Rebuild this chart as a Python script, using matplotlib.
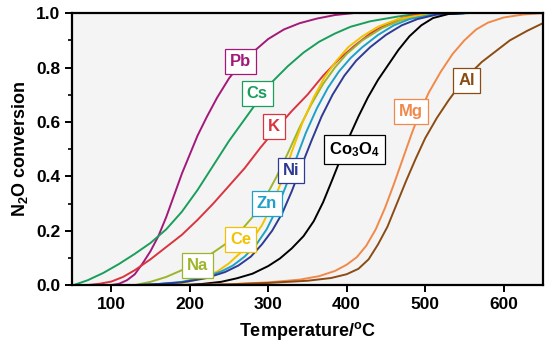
import matplotlib
matplotlib.use("Agg")
import matplotlib.pyplot as plt

plt.rcParams['font.family'] = ['Liberation Sans', 'DejaVu Sans']
plt.rcParams['mathtext.fontset'] = 'custom'
plt.rcParams['mathtext.rm'] = 'Liberation Sans:bold'
plt.rcParams['mathtext.it'] = 'Liberation Sans:bold'
plt.rcParams['mathtext.bf'] = 'Liberation Sans:bold'

# temperature (C) and N2O conversion
pb_t = [100, 110, 120, 130, 140, 150, 160, 170, 180, 190, 200, 210, 222, 235, 250, 265, 280, 300, 320, 340, 362, 385, 408]
pb_c = [0.0, 0.005, 0.018, 0.04, 0.08, 0.125, 0.18, 0.25, 0.33, 0.41, 0.48, 0.55, 0.62, 0.69, 0.76, 0.815, 0.855, 0.905, 0.94, 0.963, 0.98, 0.993, 1.0]

cs_t = [52, 70, 90, 110, 130, 150, 170, 190, 210, 230, 250, 270, 290, 306, 325, 345, 365, 385, 405, 430, 464, 495]
cs_c = [0.0, 0.018, 0.045, 0.078, 0.115, 0.155, 0.205, 0.27, 0.35, 0.44, 0.53, 0.61, 0.69, 0.75, 0.805, 0.855, 0.895, 0.925, 0.95, 0.97, 0.987, 1.0]

k_t = [70, 85, 100, 115, 130, 150, 170, 190, 210, 230, 250, 270, 290, 310, 330, 350, 370, 390, 410, 430, 450, 470, 490, 515]
k_c = [0.0, 0.005, 0.013, 0.03, 0.055, 0.095, 0.14, 0.185, 0.24, 0.3, 0.365, 0.43, 0.505, 0.575, 0.64, 0.7, 0.77, 0.83, 0.88, 0.925, 0.958, 0.982, 0.995, 1.0]

na_t = [130, 150, 170, 190, 210, 230, 250, 265, 280, 295, 310, 325, 340, 355, 370, 385, 400, 420, 445, 470, 500, 530]
na_c = [0.0, 0.012, 0.03, 0.055, 0.085, 0.12, 0.16, 0.2, 0.25, 0.315, 0.395, 0.485, 0.58, 0.665, 0.74, 0.8, 0.85, 0.9, 0.945, 0.975, 0.995, 1.0]

ce_t = [175, 195, 215, 235, 250, 265, 280, 292, 305, 318, 330, 344, 358, 372, 387, 402, 420, 440, 465, 500, 540]
ce_c = [0.0, 0.01, 0.025, 0.05, 0.08, 0.12, 0.17, 0.22, 0.295, 0.39, 0.49, 0.6, 0.69, 0.765, 0.825, 0.875, 0.915, 0.95, 0.978, 0.996, 1.0]

zn_t = [130, 160, 190, 220, 240, 255, 270, 285, 298, 310, 322, 335, 348, 362, 376, 390, 405, 420, 440, 460, 480, 510, 555]
zn_c = [0.0, 0.004, 0.012, 0.03, 0.05, 0.072, 0.105, 0.15, 0.205, 0.275, 0.36, 0.46, 0.56, 0.65, 0.725, 0.785, 0.835, 0.875, 0.92, 0.955, 0.978, 0.995, 1.0]

ni_t = [130, 160, 190, 220, 245, 262, 278, 292, 305, 318, 330, 342, 355, 368, 382, 397, 412, 430, 450, 470, 490, 515, 550]
ni_c = [0.0, 0.004, 0.01, 0.025, 0.048, 0.072, 0.105, 0.15, 0.2, 0.265, 0.345, 0.435, 0.53, 0.62, 0.7, 0.77, 0.825, 0.875, 0.92, 0.955, 0.978, 0.995, 1.0]

co_t = [190, 215, 240, 260, 280, 300, 315, 330, 345, 358, 370, 382, 393, 404, 415, 427, 440, 453, 466, 480, 495, 510, 530, 550]
co_c = [0.0, 0.004, 0.012, 0.025, 0.042, 0.07, 0.098, 0.135, 0.18, 0.235, 0.305, 0.39, 0.47, 0.55, 0.62, 0.69, 0.755, 0.81, 0.865, 0.915, 0.955, 0.982, 0.997, 1.0]

mg_t = [200, 250, 300, 340, 365, 385, 400, 413, 425, 437, 449, 460, 471, 482, 493, 505, 520, 535, 550, 565, 580, 600, 625, 650]
mg_c = [0.0, 0.003, 0.01, 0.02, 0.033, 0.052, 0.075, 0.103, 0.145, 0.205, 0.285, 0.37, 0.46, 0.55, 0.635, 0.71, 0.785, 0.85, 0.9, 0.94, 0.965, 0.984, 0.995, 1.0]

al_t = [200, 250, 300, 350, 380, 400, 415, 428, 440, 452, 464, 476, 488, 500, 515, 530, 544, 558, 572, 590, 608, 630, 650]
al_c = [0.0, 0.003, 0.008, 0.016, 0.026, 0.04, 0.06, 0.095, 0.15, 0.215, 0.3, 0.385, 0.465, 0.54, 0.615, 0.68, 0.735, 0.78, 0.82, 0.86, 0.9, 0.935, 0.963]

names = ['Pb', 'Cs', 'K', 'Na', 'Ce', 'Zn', 'Ni', 'Co$_3$O$_4$', 'Mg', 'Al']
temps = [pb_t, cs_t, k_t, na_t, ce_t, zn_t, ni_t, co_t, mg_t, al_t]
convs = [pb_c, cs_c, k_c, na_c, ce_c, zn_c, ni_c, co_c, mg_c, al_c]
colors = ['#A3197A', '#1A9E5C', '#D9343F', '#9CB52B', '#F2C200',
          '#1DA1C8', '#2E3A93', '#000000', '#F0894A', '#8B4C14']
# where each label box sits (data coords)
label_pos = [(265, 0.822), (286, 0.704), (307, 0.585), (210, 0.072), (265, 0.167),
             (298, 0.30), (329, 0.423), (410, 0.498), (482, 0.64), (553, 0.754)]

fig = plt.figure(figsize=(5.5, 3.46), dpi=100)
ax = fig.add_axes([0.131, 0.176, 0.856, 0.786])
ax.set_facecolor('#F4F4F4')

for t, c, col in zip(temps, convs, colors):
    ax.plot(t, c, color=col, lw=1.4, solid_capstyle='round', solid_joinstyle='round')

for name, (x, y), col in zip(names, label_pos, colors):
    ax.text(x, y, name, color=col, fontsize=12, fontweight='bold',
            ha='center', va='center',
            bbox=dict(boxstyle='square,pad=0.3', fc='white', ec=col, lw=0.9))

ax.set_xlim(50, 650)
ax.set_ylim(0, 1.0)
ax.set_xticks([100, 200, 300, 400, 500, 600])
ax.set_yticks([0.0, 0.2, 0.4, 0.6, 0.8, 1.0])
ax.set_yticks([0.1, 0.3, 0.5, 0.7, 0.9], minor=True)
ax.tick_params(axis='both', which='major', direction='out', length=5, width=1.4,
               labelsize=12.5)
ax.tick_params(axis='y', which='minor', direction='out', length=3, width=1.2)
for lab in ax.get_xticklabels() + ax.get_yticklabels():
    lab.set_fontweight('bold')
for s in ax.spines.values():
    s.set_linewidth(1.6)

ax.set_xlabel('Temperature/$^{o}$C', fontsize=13, fontweight='bold', labelpad=6)
ax.set_ylabel('N$_2$O conversion', fontsize=13, fontweight='bold', labelpad=4)

fig.savefig('out.png', dpi=100)
